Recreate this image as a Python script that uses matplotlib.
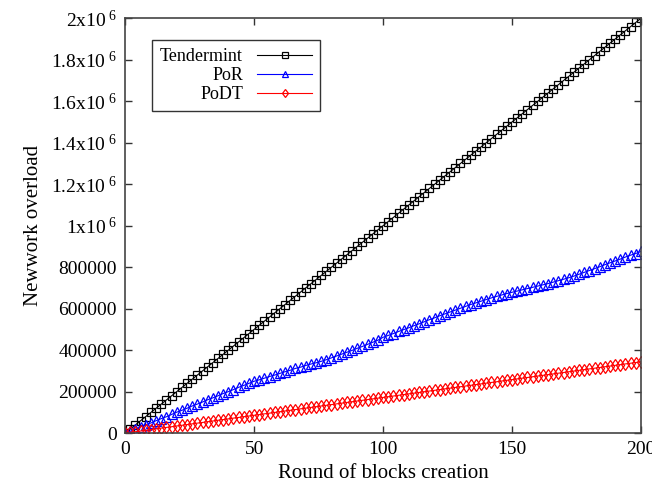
#!/usr/bin/env python3
import matplotlib
matplotlib.use("Agg")
import matplotlib.pyplot as plt

# --- Data (one point every 2 rounds) ---
rounds = list(range(0, 201, 2))

tendermint = [
    0, 20000, 40000, 60000, 80000, 100000, 120000, 140000, 160000, 180000,
    200000, 220000, 240000, 260000, 280000, 300000, 320000, 340000, 360000, 380000,
    400000, 420000, 440000, 460000, 480000, 500000, 520000, 540000, 560000, 580000,
    600000, 620000, 640000, 660000, 680000, 700000, 720000, 740000, 760000, 780000,
    800000, 820000, 840000, 860000, 880000, 900000, 920000, 940000, 960000, 980000,
    1000000, 1020000, 1040000, 1060000, 1080000, 1100000, 1120000, 1140000, 1160000, 1180000,
    1200000, 1220000, 1240000, 1260000, 1280000, 1300000, 1320000, 1340000, 1360000, 1380000,
    1400000, 1420000, 1440000, 1460000, 1480000, 1500000, 1520000, 1540000, 1560000, 1580000,
    1600000, 1620000, 1640000, 1660000, 1680000, 1700000, 1720000, 1740000, 1760000, 1780000,
    1800000, 1820000, 1840000, 1860000, 1880000, 1900000, 1920000, 1940000, 1960000, 1980000,
    2000000,
]

por = [
    0, 9000, 19000, 30000, 40000, 49000, 60000, 70000, 79000, 90000,
    101000, 110000, 120000, 131000, 140000, 150000, 161000, 170000, 180000, 191000,
    200000, 210000, 221000, 230000, 240000, 250000,
    257000, 265000, 273000, 280000, 288000, 296000, 303000, 312000, 318000, 326000,
    333000, 339000, 346000,
    354000, 363000, 372000, 381000, 390000, 399000, 409000, 418000, 428000, 438000,
    448000, 462000,
    471000, 480000, 490000, 499000, 508000, 518000, 527000, 537000, 547000, 556000,
    566000, 575000, 584000,
    593000, 602000, 611000, 620000, 628000, 636000, 644000, 652000, 659000, 666000,
    673000, 679000, 685000, 691000, 697000, 703000, 709000, 715000, 721000, 728000,
    735000, 742000, 749000,
    757000, 766000, 775000, 784000, 793000, 802000, 812000, 821000, 830000, 839000,
    849000, 858000, 866000, 876000,
]

podt = [
    0, 3500, 6800, 10400, 13700, 17300, 20600, 24100, 27600, 30900,
    34500, 37800, 41300, 44700, 48200, 51500, 55100, 58400, 61900, 65400,
    68700, 72300, 75600, 79200, 82500, 86000, 89400, 92900, 96300, 99800,
    103100, 106700, 110000, 113600, 117000, 120300, 123900, 127200, 130800, 134100,
    137600, 141100, 144400, 148000, 151300, 154900, 158200, 161800, 165100, 168600,
    172000, 175500, 178800, 182400, 185700, 189300, 192600, 196100, 199600, 202900,
    206500, 209800, 213400, 216700, 220300, 223600, 227100, 230500, 233900, 237400,
    240800, 244300, 247600, 251200, 254500, 258100, 261400, 264900, 268300, 271800,
    275200, 278600, 282100, 285400, 289000, 292300, 295900, 299200, 302700, 306100,
    309600, 313000, 316400, 319900, 323200, 326800, 330100, 333700, 337000, 340500,
    344000,
]

xticks = [0, 50, 100, 150, 200]
yticks = [0, 200000, 400000, 600000, 800000, 1000000, 1200000, 1400000,
          1600000, 1800000, 2000000]
ytick_labels = ["0", "200000", "400000", "600000", "800000",
                "1x10$^{\\ 6}$", "1.2x10$^{\\ 6}$", "1.4x10$^{\\ 6}$",
                "1.6x10$^{\\ 6}$", "1.8x10$^{\\ 6}$", "2x10$^{\\ 6}$"]

# --- Style ---
plt.rcParams['font.family'] = ['Liberation Serif', 'DejaVu Serif']
plt.rcParams['mathtext.fontset'] = 'custom'
plt.rcParams['mathtext.rm'] = 'Liberation Serif'
plt.rcParams['mathtext.it'] = 'Liberation Serif'

fig = plt.figure(figsize=(6.52, 4.95), dpi=100)
ax = fig.add_axes([0.192, 0.125, 0.791, 0.838])

ax.plot(rounds, tendermint, color='black', marker='s', markersize=6,
        markerfacecolor='none', markeredgewidth=0.9, linewidth=0.8,
        label='Tendermint')
ax.plot(rounds, por, color='#0000ff', marker='^', markersize=6.5,
        markerfacecolor='none', markeredgewidth=0.9, linewidth=0.8,
        label='PoR')
ax.plot(rounds, podt, color='#ff0000', marker='d', markersize=6,
        markerfacecolor='none', markeredgewidth=0.9, linewidth=0.8,
        label='PoDT')

ax.set_xlim(0, 200)
ax.set_ylim(0, 2000000)
ax.set_xticks(xticks)
ax.set_yticks(yticks)
ax.set_yticklabels(ytick_labels)
ax.tick_params(direction='in', length=5, width=1, top=True, right=True,
               labelsize=14, color='#333333', pad=6)

for s in ax.spines.values():
    s.set_color('#444444')
    s.set_linewidth(1.2)

ax.set_xlabel("Round of blocks creation", fontsize=15, labelpad=4)
ax.set_ylabel("Newwork overload", fontsize=15, labelpad=6)

leg = ax.legend(loc='upper left', bbox_to_anchor=(0.052, 0.947),
                borderaxespad=0, markerfirst=False, fancybox=False,
                edgecolor='#333333', framealpha=1, fontsize=13,
                handlelength=3, handletextpad=0.8, labelspacing=0.1,
                borderpad=0.45, markerscale=0.75)
leg.get_frame().set_linewidth(1.0)

plt.savefig("out.png", dpi=100)
